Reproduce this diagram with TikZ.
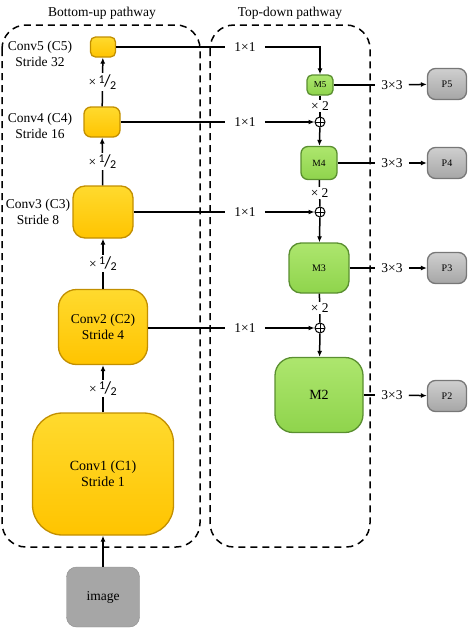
\documentclass[tikz,border=0pt]{standalone}
\usepackage{fontspec}
\setmainfont{Liberation Serif}
\newfontfamily\fracfont{Carlito}
\usepackage{xcolor}
\usetikzlibrary{arrows.meta}

\definecolor{convtop}{HTML}{FFDA2E}
\definecolor{convbot}{HTML}{FFC400}
\definecolor{convedge}{HTML}{C28F00}
\definecolor{mergetop}{HTML}{ADE66E}
\definecolor{mergebot}{HTML}{8FD44C}
\definecolor{mergeedge}{HTML}{5A8F30}
\definecolor{predtop}{HTML}{CFCFCF}
\definecolor{predbot}{HTML}{A6A6A6}
\definecolor{prededge}{HTML}{777777}
\definecolor{imgfill}{HTML}{A6A6A6}

\newcommand{\halve}{×\,{\fracfont\raisebox{3.5pt}{\fontsize{12}{12}\selectfont 1}\kern-0.5pt{\fontsize{17}{17}\selectfont/}\kern-0.5pt\raisebox{-2.5pt}{\fontsize{12}{12}\selectfont 2}}}

\begin{document}
\begin{tikzpicture}[x=1pt,y=-1pt,font=\fontsize{13.5}{15.5}\selectfont]
  \tikzstyle{conv}=[rectangle,draw=convedge,line width=1.3pt,top color=convtop,bottom color=convbot,align=center,inner sep=0]
  \tikzstyle{merge}=[rectangle,draw=mergeedge,line width=1.3pt,top color=mergetop,bottom color=mergebot,inner sep=0]
  \tikzstyle{pred}=[rectangle,draw=prededge,line width=1.3pt,top color=predtop,bottom color=predbot,inner sep=0,minimum width=39,minimum height=31,rounded corners=8,font=\fontsize{10}{12}\selectfont]
  \tikzstyle{adder}=[circle,draw,line width=1pt,minimum size=10,inner sep=0,
    path picture={\draw[line width=0.9pt] (path picture bounding box.north) -- (path picture bounding box.south)
      (path picture bounding box.west) -- (path picture bounding box.east);}]
  \tikzstyle{op}=[fill=white,inner sep=1.5pt]
  \tikzstyle{kernel}=[inner xsep=9pt]
  \tikzstyle{link}=[line width=1.5pt]
  \tikzstyle{flow}=[link,-{Latex[length=6pt,width=5pt]}]
  \tikzstyle{region}=[line width=1.5pt,dash pattern=on 7pt off 5pt,rounded corners=24]
  \useasboundingbox (0,0) rectangle (474,637);
  % pathway frames
  \draw[region] (2,25) rectangle (200,547);
  \draw[region] (210,25) rectangle (370,547);
  \node(tbu) at (102,13) {Bottom-up pathway};
  \node(ttd) at (290,13) {Top-down pathway};
  % bottom-up
  \node(c5)[conv,minimum width=25,minimum height=20,rounded corners=5] at (103,47) {};
  \node(c4)[conv,minimum width=36,minimum height=30,rounded corners=7] at (102,122) {};
  \node(c3)[conv,minimum width=60,minimum height=52,rounded corners=12] at (103,212) {};
  \node(c2)[conv,minimum width=89,minimum height=75,rounded corners=18] at (103,327) {Conv2 (C2)\\Stride 4};
  \node(c1)[conv,minimum width=141,minimum height=122,rounded corners=30,font=\fontsize{14}{16}\selectfont] at (103,474) {Conv1 (C1)\\Stride 1};
  \node(img)[rectangle,draw=imgfill!85!black,fill=imgfill,minimum width=73,minimum height=60,rounded corners=10] at (103,597) {image};
  \node(l5)[align=center] at (40,54) {Conv5 (C5)\\Stride 32};
  \node(l4)[align=center] at (40,126) {Conv4 (C4)\\Stride 16};
  \node(l3)[align=center] at (38,212) {Conv3 (C3)\\Stride 8};
  \draw[flow] (img) -- (c1);
  \draw[flow] (c1) -- node[op]{\halve} (c2);
  \draw[flow] (c2) -- node[op]{\halve} (c3);
  \draw[flow] (c3) -- node[op]{\halve} (c4);
  \draw[flow] (c4) -- node[op]{\halve} (c5);
  % top-down
  \node(m5)[merge,minimum width=26,minimum height=20,rounded corners=5,font=\fontsize{9}{10}\selectfont] at (320,85) {M5};
  \node(a4)[adder] at (320,122) {};
  \node(m4)[merge,minimum width=36,minimum height=33,rounded corners=7,font=\fontsize{9.5}{10}\selectfont] at (319,163) {M4};
  \node(a3)[adder] at (320,212) {};
  \node(m3)[merge,minimum width=60,minimum height=50,rounded corners=12,font=\fontsize{10}{11}\selectfont] at (319,268) {M3};
  \node(a2)[adder] at (320,328) {};
  \node(m2)[merge,minimum width=88,minimum height=75,rounded corners=18,font=\fontsize{14}{16}\selectfont] at (319,395) {M2};
  \node(k5)[kernel] at (245,47) {1×1};
  \node(k4)[kernel] at (245,122) {1×1};
  \node(k3)[kernel] at (245,212) {1×1};
  \node(k2)[kernel] at (245,328) {1×1};
  \draw[link] (c5) -- (k5);
  \draw[flow] (k5) -| (m5);
  \draw[link] (c4.east |- k4) -- (k4);
  \draw[flow] (k4) -- (a4);
  \draw[link] (c3.east |- k3) -- (k3);
  \draw[flow] (k3) -- (a3);
  \draw[link] (c2.east |- k2) -- (k2);
  \draw[flow] (k2) -- (a2);
  \draw[link] (m5) -- node[op]{× 2} (a4);
  \draw[flow] (a4) -- (m4);
  \draw[link] (m4) -- node[op]{× 2} (a3);
  \draw[flow] (a3) -- (m3);
  \draw[link] (m3) -- node[op]{× 2} (a2);
  \draw[flow] (a2) -- (m2);
  % predictions
  \node(t5)[inner xsep=6pt] at (392,85) {3×3};
  \node(t4)[inner xsep=6pt] at (392,163) {3×3};
  \node(t3)[inner xsep=6pt] at (392,268) {3×3};
  \node(t2)[inner xsep=6pt] at (392,395) {3×3};
  \node(p5)[pred] at (447,84) {P5};
  \node(p4)[pred] at (447,163) {P4};
  \node(p3)[pred] at (447,268) {P3};
  \node(p2)[pred] at (447,396) {P2};
  \draw[link] (m5) -- (t5);
  \draw[flow] (t5) -- (p5);
  \draw[link] (m4) -- (t4);
  \draw[flow] (t4) -- (p4);
  \draw[link] (m3) -- (t3);
  \draw[flow] (t3) -- (p3);
  \draw[link] (m2) -- (t2);
  \draw[flow] (t2) -- (p2);
\end{tikzpicture}
\end{document}
